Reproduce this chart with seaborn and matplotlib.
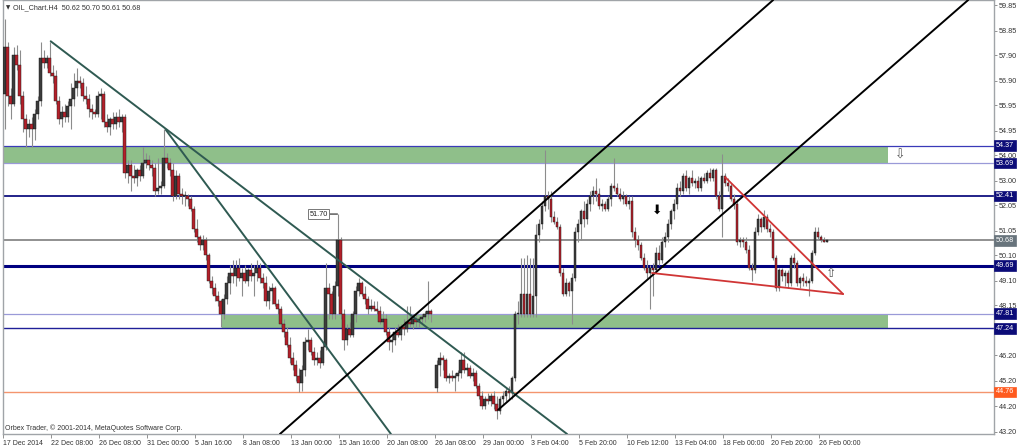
import numpy as np
import pandas as pd
import matplotlib
matplotlib.use("Agg")
import matplotlib.pyplot as plt
import matplotlib.transforms as mtransforms
import seaborn as sns

# H4 candles (one value per bar, NaN = missing bar)
closes = [
    58.2, 56.3, 56.0, 57.9, 57.5, 56.3, 55.4, 55.0, 55.2, 55.0,
    55.6, 56.1, 57.8, 57.6, 57.8, 57.2, 57.1, 56.1, 55.4, 55.7,
    55.5, 55.9, 56.2, 56.6, 56.9, 56.8, 56.3, 56.2, 55.8, 55.7,
    55.6, 56.3, 56.4, 55.3, 55.1, 55.4, 55.2, 55.5, 55.3, 55.5,
    53.3, 53.6, 53.2, 53.1, 53.4, 53.2, 53.7, 53.8, 53.6, 53.5,
    52.6, 52.7, 52.8, 53.9, 53.7, 53.4, 52.4, 53.2, 52.5, 52.4,
    52.4, 52.3, 51.9, 51.1, 50.8, 50.5, 50.7, 50.1, 49.1, 48.8,
    48.5, 48.3, 47.8, 48.4, 49.0, 49.4, 49.3, 49.6, 49.2, 49.4,
    49.1, 49.5, 49.3, 49.4, 49.6, 49.2, 49.0, 48.3, 48.7, 48.8,
    48.2, 48.0, 47.4, 47.1, 46.6, 46.1, 45.8, 45.4, 45.1, 45.6,
    46.7, 46.8, 46.3, 46.0, 46.1, 45.9, 46.5, 48.8, 48.6, 47.8,
    48.9, 50.7, 47.8, 46.8, 47.2, 47.0, 47.8, 48.7, 49.0, 48.6,
    48.4, 48.0, 48.1, 48.0, 47.9, 47.5, 47.6, 47.1, 46.7, 46.8,
    47.1, 47.0, 47.3, 47.2, 47.5, 47.4, 47.6, 47.5, 47.6, 47.7,
    47.8, 47.9, 47.8, np.nan, 45.8, 46.1, 46.0, 45.3, 45.4, 45.3,
    45.4, 45.5, 46.0, 45.6, 45.7, 45.4, 45.5, 45.0, 44.6, 44.2,
    44.5, 44.4, 44.6, 44.3, 44.0, 44.5, 44.6, 44.8, 44.7, 45.3,
    47.8, 47.8, 48.6, 47.8, 48.6, 47.8, 48.5, 50.9, 51.3, 52.0,
    52.4, 52.3, 51.6, 51.4, 51.2, 49.4, 48.6, 49.0, 48.7, 49.2,
    51.0, 51.3, 51.8, 51.5, 52.1, 52.4, 52.6, 52.5, 52.0, 52.1,
    51.9, 52.3, 52.8, 52.7, 52.5, 52.3, 52.4, 52.1, 52.2, 51.0,
    50.7, 50.5, 50.0, 49.6, 49.4, 49.6, 49.5, 50.2, 49.9, 50.6,
    50.8, 51.3, 51.8, 52.1, 52.7, 52.6, 53.2, 52.7, 53.1, 52.9,
    53.0, 52.7, 53.1, 53.0, 53.3, 53.1, 53.4, 52.4, 51.9, 53.2,
    52.9, 52.8, 52.3, 52.1, 50.6, 50.7, 50.6, 50.3, 49.6, 49.5,
    51.0, 51.5, 51.2, 51.6, 51.1, 51.0, 50.0, 48.8, 49.5, 49.3,
    49.4, 49.0, 50.0, 49.8, 49.0, 49.2, 49.1, 49.0, 49.1, 50.2,
    51.0, 50.8, 50.7, 50.62, 50.68,
]
highs = [
    59.3, 58.4, 56.6, 58.2, 58.3, 58.1, 56.5, 55.6, 55.4, 55.5,
    55.8, 56.3, 58.4, 58.1, 57.9, 58.4, 57.5, 57.3, 56.3, 55.9,
    56.0, 56.1, 56.8, 57.2, 57.4, 57.1, 57.0, 56.7, 56.4, 56.0,
    55.8, 56.5, 56.6, 56.5, 55.6, 55.5, 55.7, 55.7, 55.8, 55.6,
    55.6, 53.8, 53.8, 53.6, 53.5, 53.6, 54.3, 54.1, 54.0, 53.8,
    53.7, 53.9, 53.0, 55.0, 54.1, 53.9, 53.7, 53.4, 53.3, 52.7,
    52.6, 52.5, 52.4, 52.0, 51.5, 50.9, 50.9, 50.8, 50.2, 49.3,
    49.0, 48.7, 48.4, 48.6, 49.3, 49.7, 49.9, 49.9, 50.0, 49.6,
    49.7, 49.6, 49.8, 49.7, 49.9, 49.8, 49.4, 49.3, 48.9, 49.0,
    48.9, 48.4, 48.1, 47.6, 47.3, 46.9, 46.3, 46.0, 45.7, 45.8,
    46.9, 47.2, 46.9, 46.5, 46.3, 46.4, 46.7, 49.8, 49.0, 48.7,
    49.1, 51.7, 50.8, 48.0, 47.4, 47.5, 47.9, 48.9, 49.2, 49.1,
    48.9, 48.5, 48.4, 48.3, 48.3, 48.1, 47.9, 47.8, 47.3, 47.0,
    47.3, 47.4, 47.4, 47.6, 48.1, 48.1, 47.8, 47.8, 47.7, 47.8,
    47.9, 49.1, 48.0, np.nan, 46.0, 46.3, 46.2, 46.1, 45.5, 45.6,
    45.5, 45.6, 46.3, 46.3, 45.9, 45.8, 45.7, 45.6, 45.1, 44.8,
    44.6, 44.7, 44.7, 44.8, 44.6, 44.6, 44.8, 44.9, 45.0, 45.4,
    47.9, 48.3, 50.0, 50.0, 50.1, 50.0, 50.0, 51.3, 51.5, 52.2,
    54.2, 52.6, 52.6, 51.8, 51.6, 51.3, 49.6, 49.2, 49.1, 49.4,
    51.2, 51.5, 51.9, 52.2, 52.3, 52.6, 52.8, 53.1, 52.7, 52.3,
    52.2, 52.4, 52.9, 53.9, 52.9, 52.7, 52.6, 52.5, 52.4, 52.4,
    51.2, 50.9, 50.6, 50.2, 49.9, 49.7, 49.8, 50.4, 50.5, 50.8,
    51.0, 51.5, 51.9, 52.3, 52.9, 53.0, 53.3, 53.4, 53.2, 53.4,
    53.1, 53.2, 53.2, 53.3, 53.4, 53.5, 53.5, 53.5, 52.6, 54.05,
    53.3, 53.1, 52.9, 52.5, 52.3, 50.8, 50.8, 50.8, 50.5, 49.8,
    51.2, 51.7, 51.6, 51.85, 51.7, 51.3, 51.1, 50.1, 49.6, 49.6,
    49.5, 49.5, 50.1, 50.2, 49.9, 49.3, 49.4, 49.3, 49.2, 50.3,
    51.2, 51.2, 50.9, 50.8, 50.70,
]
lows = [
    55.0, 55.9, 55.4, 55.9, 57.3, 56.0, 54.9, 54.3, 54.7, 54.3,
    54.6, 55.4, 55.9, 57.4, 57.4, 57.1, 56.8, 56.0, 55.2, 55.1,
    55.3, 55.3, 55.0, 55.9, 56.3, 56.6, 56.1, 56.0, 55.5, 55.4,
    55.5, 55.5, 55.4, 55.1, 54.9, 54.8, 55.0, 55.0, 55.1, 54.9,
    53.1, 52.9, 52.6, 52.9, 52.8, 53.0, 53.1, 53.5, 53.4, 53.2,
    52.4, 52.5, 52.5, 52.7, 53.5, 53.2, 52.2, 52.3, 52.3, 52.1,
    52.0, 52.0, 51.8, 51.0, 50.6, 50.3, 50.3, 49.9, 49.0, 48.6,
    48.3, 48.1, 47.3, 47.6, 48.2, 48.6, 49.0, 48.9, 49.1, 48.5,
    49.0, 48.9, 49.1, 48.5, 49.1, 49.0, 48.8, 48.1, 48.0, 48.2,
    48.1, 47.8, 47.3, 46.9, 46.5, 45.9, 45.6, 45.2, 44.76, 44.8,
    45.4, 46.4, 46.2, 45.8, 45.8, 45.7, 45.8, 46.4, 47.6, 47.6,
    47.6, 48.5, 47.6, 46.4, 46.6, 46.9, 46.9, 47.5, 48.5, 48.5,
    48.2, 47.8, 47.9, 47.9, 47.8, 47.4, 47.3, 47.0, 46.4, 46.3,
    46.6, 46.9, 46.8, 47.0, 47.1, 47.3, 47.2, 47.3, 47.3, 47.4,
    47.5, 47.6, 47.5, np.nan, 44.76, 45.4, 45.6, 45.2, 45.1, 45.2,
    44.8, 45.2, 45.3, 45.5, 45.4, 45.3, 45.2, 44.9, 44.5, 44.1,
    44.1, 44.3, 44.2, 44.1, 43.7, 43.9, 44.3, 44.4, 44.5, 44.5,
    45.2, 47.4, 47.7, 47.7, 47.7, 47.7, 47.7, 47.7, 50.6, 51.1,
    51.8, 51.9, 51.4, 51.3, 51.1, 49.3, 48.5, 48.5, 48.5, 47.4,
    49.1, 50.6, 50.7, 51.2, 51.3, 51.8, 52.1, 52.2, 51.9, 51.8,
    51.8, 51.8, 52.0, 52.6, 52.4, 52.2, 52.1, 52.0, 51.9, 50.8,
    50.4, 50.3, 49.9, 49.5, 49.2, 48.0, 48.5, 49.4, 49.7, 49.8,
    50.4, 50.6, 51.1, 51.5, 51.9, 52.4, 52.5, 52.6, 52.5, 52.8,
    52.7, 52.6, 52.6, 52.9, 52.9, 53.0, 53.0, 52.3, 51.8, 50.8,
    52.8, 52.6, 52.2, 51.9, 50.5, 50.4, 50.4, 50.2, 49.5, 49.1,
    49.4, 50.9, 51.0, 51.1, 51.0, 50.8, 49.9, 48.7, 48.7, 49.1,
    48.9, 48.8, 48.9, 49.6, 48.9, 48.8, 48.9, 48.9, 48.5, 49.0,
    50.1, 50.7, 50.6, 50.6, 50.61,
]
first_open = 56.4
gap_bar, gap_open = 144, 44.9

time_labels = ["17 Dec 2014", "22 Dec 08:00", "26 Dec 08:00", "31 Dec 00:00",
               "5 Jan 16:00", "8 Jan 08:00", "13 Jan 00:00", "15 Jan 16:00",
               "20 Jan 08:00", "26 Jan 08:00", "29 Jan 00:00", "3 Feb 04:00",
               "5 Feb 20:00", "10 Feb 12:00", "13 Feb 04:00", "18 Feb 00:00",
               "20 Feb 20:00", "26 Feb 00:00"]
# 47.20 sits under the 47.24 tag in the original, so it is not listed
price_ticks = [59.85, 58.85, 57.90, 56.90, 55.95, 54.95, 54.00, 53.00, 52.05,
               51.05, 50.10, 49.10, 48.15, 46.20, 45.20, 44.20, 43.20]

# horizontal levels drawn on the chart
levels = [54.37, 53.69, 52.41, 50.68, 49.69, 47.81, 47.24, 44.76]
level_colors = ["#3a3ab8", "#9a9ad8", "#101080", "#909090", "#000080", "#9a9ad8", "#202098", "#f4956e"]
level_widths = [0.9, 0.9, 1.3, 1.4, 2.2, 0.9, 1.0, 1.0]
label_bg = ["#0c0c78", "#0c0c78", "#0c0c78", "#68747c", "#0c0c78", "#0c0c78", "#0c0c78", "#ff5a1e"]

# supply / demand zones: (x start bar, x end bar, low, high)
zone_upper = (-0.5, 294.5, 53.69, 54.37)
zone_lower = (72.5, 294.5, 47.24, 47.81)

# trend lines as (bar, price) anchor pairs
tl_down_1 = ([15.4, 187.5], [58.44, 43.12])
tl_down_2 = ([53.8, 128.8], [54.98, 43.12])
ch_upper = ([91.8, 256.2], [43.12, 60.05])
ch_lower = ([164.5, 321.2], [44.06, 60.05])
wedge_top = ([240.2, 279.5], [53.14, 48.58])
wedge_bottom = ([215.8, 279.5], [49.40, 48.58])

df = pd.DataFrame({"close": closes, "high": highs, "low": lows})
df["bar"] = np.arange(len(df))
df["open"] = df["close"].shift(1)
df.loc[0, "open"] = first_open
df.loc[gap_bar, "open"] = gap_open
df = df.dropna()
df["high"] = np.maximum(df["high"], df[["open", "close"]].max(axis=1))
df["low"] = np.minimum(df["low"], df[["open", "close"]].min(axis=1))

sns.set_style("white")
plt.rcParams["font.family"] = ["Liberation Sans", "DejaVu Sans"]

fig = plt.figure(figsize=(10.24, 4.48), dpi=100)
ax = fig.add_axes([3 / 1024, 14 / 448, 991 / 1024, 434 / 448])

# zones
for x0, x1, lo, hi in [zone_upper, zone_lower]:
    ax.fill_between([x0, x1], [lo, lo], [hi, hi], color="#8fbf8a", lw=0, zorder=1)

# levels
for p, c, w in zip(levels, level_colors, level_widths):
    ax.axhline(p, color=c, lw=w, zorder=2)

# candles
up = df[df["close"] >= df["open"]]
dn = df[df["close"] < df["open"]]
ax.vlines(df["bar"], df["low"], df["high"], color="#8c8c8c", lw=0.8, zorder=3)
ax.bar(up["bar"], np.maximum(up["close"] - up["open"], 0.03), bottom=up["open"],
       width=0.7, color="#3c3c3c", edgecolor="#111111", lw=0.3, zorder=4)
ax.bar(dn["bar"], dn["open"] - dn["close"], bottom=dn["close"],
       width=0.7, color="#b3202a", edgecolor="#1a1a1a", lw=0.3, zorder=4)

# trend lines
for (xs, ys), col, lw in [(tl_down_1, "#2f5a52", 1.4), (tl_down_2, "#2f5a52", 1.4),
                          (ch_upper, "black", 1.4), (ch_lower, "black", 1.4),
                          (wedge_top, "#d03535", 1.3), (wedge_bottom, "#d03535", 1.3)]:
    sns.lineplot(x=xs, y=ys, color=col, lw=lw, ax=ax, zorder=5)

# price label for the spike
ax.annotate("51.70", xy=(111, 51.70), xytext=(104.7, 51.70), ha="center", va="center",
            fontsize=5.3, color="#222222", zorder=6,
            bbox=dict(boxstyle="square,pad=0.2", fc="white", ec="#777777", lw=0.7),
            arrowprops=dict(arrowstyle="-", color="black", lw=0.7, shrinkA=0, shrinkB=0))

# arrows
ax.text(217.5, 51.86, "⬇", fontsize=9, ha="center", va="center", color="black",
        family=["DejaVu Sans"], zorder=6)
ax.text(275.5, 49.40, "⇧", fontsize=9, ha="center", va="center", color="#555555",
        family=["DejaVu Sans"], zorder=6)
ax.text(298.5, 54.00, "⇩", fontsize=9, ha="center", va="center", color="#555555",
        family=["DejaVu Sans"], zorder=6)

ax.set_xlim(-0.5, 329.8)
ax.set_ylim(43.12, 60.05)
ax.set_xlabel("")
ax.set_ylabel("")

ax.set_xticks([16 * k - 0.5 for k in range(len(time_labels))])
ax.set_xticklabels(time_labels)
for lab in ax.get_xticklabels():
    lab.set_horizontalalignment("left")
ax.tick_params(axis="x", bottom=True, length=3, width=0.6, color="#808080",
               labelsize=5, labelcolor="#333333", pad=1)

ax.yaxis.tick_right()
ax.set_yticks(price_ticks)
ax.set_yticklabels([f"{v:.2f}" for v in price_ticks])
ax.tick_params(axis="y", right=True, left=False, length=2, width=0.6, color="#808080",
               labelsize=5.2, labelcolor="#333333", pad=1.5)

for s in ax.spines.values():
    s.set_color("#a0a4a8")
    s.set_linewidth(1.0)

# right-hand level tags
trans = mtransforms.blended_transform_factory(ax.transAxes, ax.transData)
for p, bg in zip(levels, label_bg):
    ax.text(1.0018, p, f"{p:.2f}", transform=trans, ha="left", va="center",
            fontsize=5.2, color="white", clip_on=False, zorder=7,
            bbox=dict(boxstyle="square,pad=0.25", fc=bg, ec=bg, lw=0.5))

fig.text(6 / 1024, 1 - 8 / 448, "▼", fontsize=4, color="#333333", va="center",
         family=["DejaVu Sans"])
fig.text(13 / 1024, 1 - 8 / 448, "OIL_Chart.H4  50.62 50.70 50.61 50.68", fontsize=5.2,
         color="#333333", va="center")
fig.text(5 / 1024, 1 - 428 / 448, "Orbex Trader, © 2001-2014, MetaQuotes Software Corp.",
         fontsize=5, color="#333333", va="center")

fig.savefig("out.png", dpi=100, facecolor="white")
